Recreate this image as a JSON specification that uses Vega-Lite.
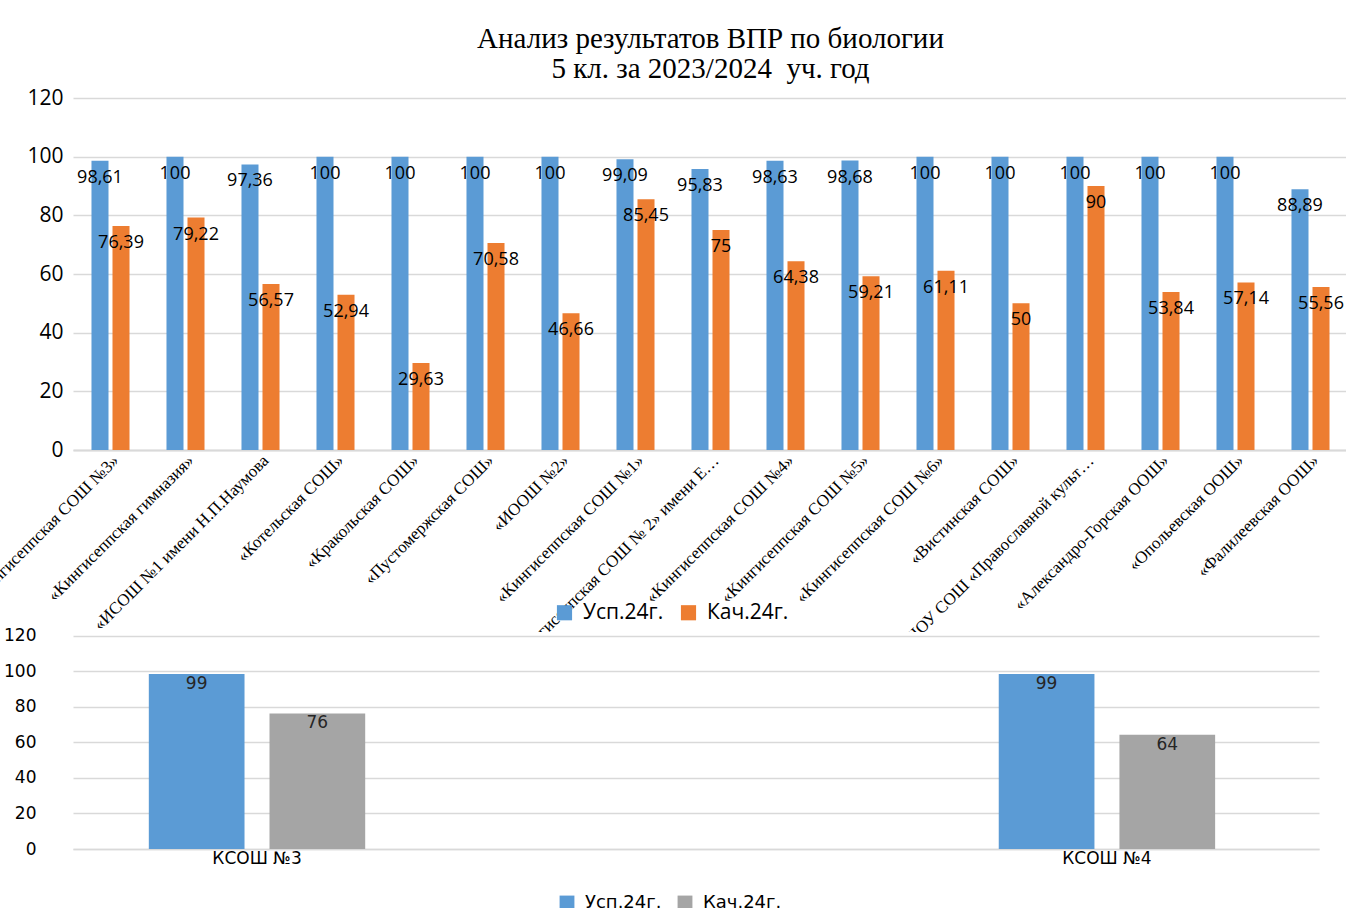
{
  "$schema": "https://vega.github.io/schema/vega-lite/v6.json",
  "background": "#ffffff",
  "padding": {"left": -33, "top": 25, "right": 0, "bottom": 0},
  "spacing": 182,
  "bounds": "flush",
  "datasets": {
    "top": [
      {"school": "«Кингисеппская СОШ №3»", "series": "Усп.24г.", "value": 98.61},
      {"school": "«Кингисеппская СОШ №3»", "series": "Кач.24г.", "value": 76.39},
      {"school": "«Кингисеппская гимназия»", "series": "Усп.24г.", "value": 100},
      {"school": "«Кингисеппская гимназия»", "series": "Кач.24г.", "value": 79.22},
      {"school": "«ИСОШ №1 имени Н.П.Наумова", "series": "Усп.24г.", "value": 97.36},
      {"school": "«ИСОШ №1 имени Н.П.Наумова", "series": "Кач.24г.", "value": 56.57},
      {"school": "«Котельская СОШ»", "series": "Усп.24г.", "value": 100},
      {"school": "«Котельская СОШ»", "series": "Кач.24г.", "value": 52.94},
      {"school": "«Кракольская СОШ»", "series": "Усп.24г.", "value": 100},
      {"school": "«Кракольская СОШ»", "series": "Кач.24г.", "value": 29.63},
      {"school": "«Пустомержская СОШ»", "series": "Усп.24г.", "value": 100},
      {"school": "«Пустомержская СОШ»", "series": "Кач.24г.", "value": 70.58},
      {"school": "«ИООШ №2»", "series": "Усп.24г.", "value": 100},
      {"school": "«ИООШ №2»", "series": "Кач.24г.", "value": 46.66},
      {"school": "«Кингисеппская СОШ №1»", "series": "Усп.24г.", "value": 99.09},
      {"school": "«Кингисеппская СОШ №1»", "series": "Кач.24г.", "value": 85.45},
      {"school": "«Кингисеппская СОШ № 2» имени Е…", "series": "Усп.24г.", "value": 95.83},
      {"school": "«Кингисеппская СОШ № 2» имени Е…", "series": "Кач.24г.", "value": 75},
      {"school": "«Кингисеппская СОШ №4»", "series": "Усп.24г.", "value": 98.63},
      {"school": "«Кингисеппская СОШ №4»", "series": "Кач.24г.", "value": 64.38},
      {"school": "«Кингисеппская СОШ №5»", "series": "Усп.24г.", "value": 98.68},
      {"school": "«Кингисеппская СОШ №5»", "series": "Кач.24г.", "value": 59.21},
      {"school": "«Кингисеппская СОШ №6»", "series": "Усп.24г.", "value": 100},
      {"school": "«Кингисеппская СОШ №6»", "series": "Кач.24г.", "value": 61.11},
      {"school": "«Вистинская СОШ»", "series": "Усп.24г.", "value": 100},
      {"school": "«Вистинская СОШ»", "series": "Кач.24г.", "value": 50},
      {"school": "ЧОУ СОШ «Православной культ…", "series": "Усп.24г.", "value": 100},
      {"school": "ЧОУ СОШ «Православной культ…", "series": "Кач.24г.", "value": 90},
      {"school": "«Александро-Горская ООШ»", "series": "Усп.24г.", "value": 100},
      {"school": "«Александро-Горская ООШ»", "series": "Кач.24г.", "value": 53.84},
      {"school": "«Опольевская ООШ»", "series": "Усп.24г.", "value": 100},
      {"school": "«Опольевская ООШ»", "series": "Кач.24г.", "value": 57.14},
      {"school": "«Фалилеевская ООШ»", "series": "Усп.24г.", "value": 88.89},
      {"school": "«Фалилеевская ООШ»", "series": "Кач.24г.", "value": 55.56}
    ],
    "bottom": [
      {"school": "КСОШ №3", "series": "Усп.24г.", "value": 98.61},
      {"school": "КСОШ №3", "series": "Кач.24г.", "value": 76.39},
      {"school": "КСОШ №4", "series": "Усп.24г.", "value": 98.63},
      {"school": "КСОШ №4", "series": "Кач.24г.", "value": 64.38}
    ]
  },
  "vconcat": [
    {
      "width": 1275,
      "height": 352,
      "title": {
        "text": ["Анализ результатов ВПР по биологии", "5 кл. за 2023/2024\u00a0 уч. год"],
        "font": "Liberation Serif",
        "fontSize": 29,
        "fontWeight": "normal",
        "color": "#000000",
        "lineHeight": 30,
        "offset": 3
      },
      "data": {"name": "top"},
      "encoding": {
        "x": {
          "field": "school", "type": "nominal", "sort": null,
          "scale": {"paddingInner": 0, "paddingOuter": 0},
          "axis": {
            "title": null, "labelAngle": -45, "labelFont": "Liberation Serif",
            "labelFontSize": 17, "labelColor": "#000000", "labelLimit": 340,
            "ticks": false, "domainColor": "#d9d9d9", "domainWidth": 2, "labelPadding": 2
          }
        },
        "xOffset": {
          "field": "series", "type": "nominal", "sort": ["Усп.24г.", "Кач.24г."],
          "scale": {"paddingInner": 0.19, "paddingOuter": 0.88}
        },
        "y": {
          "field": "value", "type": "quantitative",
          "scale": {"domain": [0, 120]},
          "axis": {
            "title": null, "values": [0, 20, 40, 60, 80, 100, 120],
            "labelFont": "Open Sans", "labelFontSize": 21, "labelColor": "#000000",
            "labelPadding": 10, "ticks": false, "domain": false,
            "gridColor": "#d9d9d9", "gridWidth": 1.5
          }
        }
      },
      "layer": [
        {
          "mark": {"type": "bar"},
          "encoding": {
            "color": {
              "field": "series", "type": "nominal", "sort": ["Усп.24г.", "Кач.24г."],
              "scale": {"domain": ["Усп.24г.", "Кач.24г."], "range": ["#5B9BD5", "#ED7D31"]},
              "legend": {
                "title": null, "orient": "none", "direction": "horizontal",
                "legendX": 481, "legendY": 504,
                "symbolType": "square", "symbolSize": 230, "symbolStrokeWidth": 0,
                "labelFont": "Open Sans", "labelFontSize": 21, "labelColor": "#000000",
                "columnPadding": 14, "labelOffset": 8
              }
            }
          }
        },
        {
          "mark": {"type": "text", "baseline": "middle", "dy": 17, "font": "Open Sans", "fontSize": 18, "color": "#000000"},
          "encoding": {"text": {"field": "value", "type": "quantitative", "format": ".4~r"}}
        }
      ]
    },
    {
      "width": 1246,
      "height": 217,
      "data": {"name": "bottom"},
      "encoding": {
        "x": {
          "field": "school", "type": "nominal", "sort": null,
          "scale": {"paddingInner": 0.6, "paddingOuter": 0.033, "align": 0.25},
          "axis": {
            "title": null, "labelAngle": 0, "labelFont": "DejaVu Sans", "labelFontSize": 17,
            "labelColor": "#000000", "ticks": false, "domainColor": "#d9d9d9", "domainWidth": 1.5,
            "labelPadding": 1
          }
        },
        "xOffset": {
          "field": "series", "type": "nominal", "sort": ["Усп.24г.", "Кач.24г."],
          "scale": {"paddingInner": 0.207, "paddingOuter": 0.512}
        },
        "y": {
          "field": "value", "type": "quantitative",
          "scale": {"domain": [0, 122.25], "nice": false},
          "axis": {
            "title": null, "values": [0, 20, 40, 60, 80, 100, 120],
            "labelFont": "DejaVu Sans", "labelFontSize": 17, "labelColor": "#000000",
            "labelPadding": 8, "offset": 29, "ticks": false, "domain": false,
            "gridColor": "#d9d9d9", "gridWidth": 1.5
          }
        }
      },
      "layer": [
        {
          "mark": {"type": "bar"},
          "encoding": {
            "color": {
              "field": "series", "type": "nominal", "sort": ["Усп.24г.", "Кач.24г."],
              "scale": {"domain": ["Усп.24г.", "Кач.24г."], "range": ["#5B9BD5", "#A5A5A5"]},
              "legend": {
                "title": null, "orient": "none", "direction": "horizontal",
                "legendX": 485, "legendY": 262,
                "symbolType": "square", "symbolSize": 220, "symbolStrokeWidth": 0,
                "labelFont": "DejaVu Sans", "labelFontSize": 18, "labelColor": "#000000",
                "columnPadding": 14, "labelOffset": 9
              }
            }
          }
        },
        {
          "mark": {"type": "text", "baseline": "middle", "dy": 10, "font": "DejaVu Sans", "fontSize": 17, "color": "#262626"},
          "encoding": {"text": {"field": "value", "type": "quantitative", "format": ".0f"}}
        }
      ]
    }
  ],
  "resolve": {
    "scale": {"color": "independent", "x": "independent", "y": "independent", "xOffset": "independent"},
    "legend": {"color": "independent"}
  },
  "config": {
    "view": {"stroke": null, "fill": "#ffffff"},
    "locale": {"number": {"decimal": ",", "thousands": " ", "grouping": [3], "currency": ["", ""]}}
  }
}
